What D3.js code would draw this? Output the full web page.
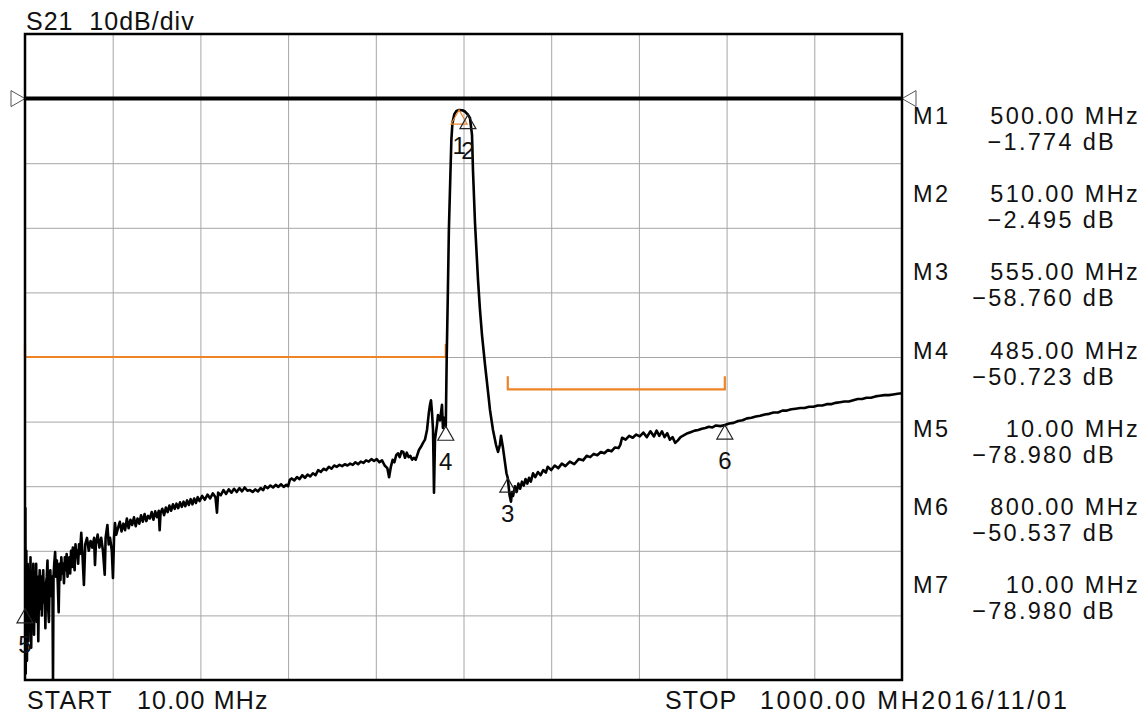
<!DOCTYPE html>
<html>
<head>
<meta charset="utf-8">
<script src="https://cdn.jsdelivr.net/npm/d3@7"></script>
<style>
body{margin:0;background:#fff;}
svg text{font-family:"Liberation Sans",Arial,sans-serif;fill:#111;white-space:pre;}
</style>
</head>
<body>
<svg id="chart" width="1147" height="717"></svg>
<script>
// S21 trace (MHz / dB)
var traceMHz = [
  10.0,10.4,10.8,11.5,12.2,13.0,13.8,14.6,15.4,16.2,17.0,17.8,18.6,19.4,20.2,21.0,21.8,22.6,23.4,24.2,
  25.0,25.8,26.6,27.4,28.2,29.0,29.8,30.6,31.4,32.2,33.0,33.8,34.6,35.4,36.2,37.0,37.8,38.6,39.4,40.2,
  41.0,41.6,42.2,43,44,45,46,47,48,49,50,51,52,53,54,55,56,57,58,59,
  60,61,62,63,64,65,66,67,68,69,70,71,72,73.5,75,76.5,78,80,82,84,
  86,88,89,90,92,94,96,98,100,101,103,104.5,106,108,109.3,110.5,111.6,113,115,117,
  119,121,123,125,127,129,131,133,135,137,139,141,143,145,147,149,151,153,155,157,
  159,161,162,163,165,167,169,171,173,175,177,179,181,183,185,187,189,191,193,195,
  197,199,201,203,205,207,210,213,216,219,222,225,226.7,228,231,234,237,240,243,246,
  249,252,255,258,261,264,267,270,273,276,279,281,284,287,290,293,296,299,302,305,
  307,309,311,314,317,320,323,326,329,332,335,338,341,344,347,350,353,356,359,362,
  365,368,371,374,377,380,383,386,389,392,395,398,401,404,407,410,413,416,419,421,
  423,425,427,429,431,433,435,437,439,441,443,445,447,449,451,452.5,454.7,457,459.3,461.5,
  463.8,466,467.2,468.3,469.4,470.6,471.7,472.8,475.1,476.2,478.5,480.7,481.8,483,485,
  486,487.4,488.5,490.2,491.3,492.5,494.7,497,500,503.7,506.7,510,512.3,514.6,515.7,518,
  521.4,523.6,525.9,529.3,532.7,534.9,538.3,541.7,544,546.2,547.3,549.6,551.8,553.5,555,557,
  558.6,559.8,561,563,565,567,569,571,573,575,577,579,581,583.5,586,589,592,595,598,600,
  604,608,612,616,620,625,630,635,640,644,648,652,656,660,664,668,672,676,680,682,
  684,688,692,696,700,704,708,712,716,720,723,726,729,732,735,738,741,744,747,750,
  754,758,762,766,770,774,778,782,786,790,795,800,805,810,815,820,825,830,835,840,
  845,850,855,860,865,870,875,880,885,890,895,900,905,910,915,920,925,930,935,940,
  945,950,955,960,965,970,975,980,985,990,995,1000
];
var traceDb = [
  -86,-63.4,-89,-70,-87,-72,-84,-73,-81,-71,-85,-74,-79,-72,-83,-75,-78,-72,-81,-74,
  -84,-76,-73,-79,-74,-80,-75,-73,-78,-76,-82,-75,-74,-71.5,-79,-81,-75,-73,-77,-74,
  -76,-90,-74,-72,-70.2,-74,-71.5,-75,-79.5,-72,-74.5,-71,-73.5,-72,-75,-71,-73,-70.5,-74,-72,
  -71,-73.5,-70,-72.5,-69.5,-71.5,-73,-69,-71,-70,-72,-69,-70.5,-67.2,-71,-75.3,-69,-68,-70,-68.5,
  -69.5,-68,-72.2,-69,-67.5,-69.5,-68,-70,-73.7,-68,-66,-69,-68,-70,-74.2,-68,-65.7,-67.5,-66.5,-65.5,
  -67,-65.8,-66.8,-65,-66.5,-65.2,-66,-64.8,-66.2,-65,-65.8,-64.5,-65.5,-64.3,-65.4,-64.6,-65,-64,-65.2,-63.9,
  -64.8,-63.8,-66.8,-64.2,-63.5,-64.5,-63.3,-64,-63,-63.8,-62.8,-63.5,-62.7,-63.4,-62.5,-63.2,-62.4,-63.1,-62.2,-62.9,
  -62,-62.8,-61.9,-62.6,-61.7,-62.3,-61.5,-62.1,-61.3,-61.9,-61.1,-61.7,-64.1,-61,-61.4,-60.6,-61.2,-60.5,-61,-60.4,
  -60.9,-60.3,-60.8,-60.2,-60.7,-60.6,-60.9,-60.5,-60.8,-60.3,-60.6,-60.0,-60.3,-59.9,-60.2,-59.8,-60.1,-59.7,-60.1,-59.8,
  -60.0,-59.0,-58.8,-59.1,-58.6,-58.9,-58.3,-58.7,-58.2,-58.5,-58.0,-58.3,-57.5,-57.8,-57.3,-57.5,-57.0,-57.3,-56.8,-57.0,
  -56.7,-56.9,-56.6,-56.8,-56.5,-56.7,-56.3,-56.6,-56.2,-56.4,-56.0,-56.2,-55.8,-56.1,-55.8,-56.3,-56.0,-56.8,-57.2,-58.6,
  -57.0,-55.9,-56.3,-55.2,-54.9,-55.5,-54.6,-54.7,-55.6,-54.8,-55.5,-55.3,-55.9,-55.6,-55.9,-55.3,-54.4,-53.9,-53.3,-52.8,
  -51.3,-48.5,-47.4,-46.7,-48.5,-51.3,-61.0,-52.8,-50.5,-49.0,-49.8,-47.4,-51.0,-49.4,-50.72,
  -40.5,-29.6,-20.3,-11.8,-6.4,-3.8,-2.4,-1.9,-1.774,-1.8,-2.0,-2.495,-3.0,-5.6,-11.1,-19.3,
  -28.1,-32.7,-36.6,-41.2,-45.4,-48.2,-51.3,-53.6,-54.7,-53.5,-52.2,-54.1,-56.3,-58.0,-58.76,-61.4,
  -62.4,-60.9,-61.5,-60.0,-60.9,-59.6,-60.4,-59.3,-59.9,-58.9,-59.6,-58.7,-59.3,-58.0,-58.6,-57.8,-58.3,-57.5,-57.9,-57.0,
  -57.5,-56.8,-57.2,-56.5,-56.9,-56.2,-56.6,-55.8,-56.0,-55.3,-55.5,-55.0,-55.2,-54.7,-54.9,-54.4,-54.6,-54.0,-54.1,-53.6,
  -52.5,-52.8,-52.2,-52.5,-52.0,-52.3,-51.7,-52.4,-51.5,-52.3,-51.4,-52.2,-51.5,-52.4,-51.8,-52.8,-52.4,-53.3,-52.9,-52.4,
  -52.1,-51.8,-51.6,-51.4,-51.3,-51.1,-51.0,-50.8,-50.9,-50.6,-50.7,-50.537,-50.3,-50.2,-49.9,-49.8,-49.5,-49.4,-49.2,-49.1,
  -48.9,-48.8,-48.6,-48.6,-48.3,-48.3,-48.1,-48.0,-47.9,-47.9,-47.7,-47.7,-47.5,-47.5,-47.3,-47.3,-47.1,-47.0,-46.9,-46.9,
  -46.7,-46.5,-46.5,-46.3,-46.3,-46.1,-46.0,-45.9,-45.9,-45.8,-45.7,-45.6
];

var markerNames = ["M1","M2","M3","M4","M5","M6","M7"];
var markerMHz = [500, 510, 555, 485, 10, 800, 10];
var markerDb = [-1.774, -2.495, -58.760, -50.723, -78.980, -50.537, -78.980];

var limitStartMHz = [10, 555];
var limitStopMHz = [485, 800];
var limitDb = [-40, -45];

var refDb = 0;
var startMHz = 10, stopMHz = 1000;
var topDb = 10, dbPerDiv = 10, divs = 10;

var svg = d3.select("#chart");
var plot = {left: 25, top: 34, width: 877, height: 646};

var x = d3.scaleLinear().domain([startMHz, stopMHz]).range([plot.left, plot.left + plot.width]);
var y = d3.scaleLinear().domain([topDb, topDb - dbPerDiv * divs]).range([plot.top, plot.top + plot.height]);

var xTicks = d3.range(divs + 1).map(function(i){ return startMHz + (stopMHz - startMHz) / divs * i; });
var yTicks = d3.range(divs + 1).map(function(i){ return topDb - dbPerDiv * i; });

// grid
svg.append("g")
  .attr("transform", "translate(0," + (plot.top + plot.height) + ")")
  .call(d3.axisBottom(x).tickValues(xTicks).tickSize(-plot.height).tickFormat(""))
  .call(function(g){ g.select(".domain").remove(); })
  .selectAll("line").attr("stroke", "#a6a6a6").attr("stroke-width", 1);
svg.append("g")
  .attr("transform", "translate(" + plot.left + ",0)")
  .call(d3.axisLeft(y).tickValues(yTicks).tickSize(-plot.width).tickFormat(""))
  .call(function(g){ g.select(".domain").remove(); })
  .selectAll("line").attr("stroke", "#a6a6a6").attr("stroke-width", 1);

svg.append("clipPath").attr("id", "clip")
  .append("rect").attr("x", plot.left).attr("y", plot.top)
  .attr("width", plot.width).attr("height", plot.height);

// limit lines
var limits = limitDb.map(function(d, i){ return {a: limitStartMHz[i], b: limitStopMHz[i], db: d}; });
var lim = svg.append("g").attr("stroke", "#ee8426").attr("stroke-width", 2.2).attr("fill", "none");
limits.forEach(function(l){
  lim.append("path").attr("d",
    "M" + x(l.a) + "," + (y(l.db) - 13) + "V" + y(l.db) + "H" + x(l.b) + "V" + (y(l.db) - 13));
});

// reference line
svg.append("line")
  .attr("x1", x(startMHz)).attr("x2", x(stopMHz))
  .attr("y1", y(refDb)).attr("y2", y(refDb))
  .attr("stroke", "#000").attr("stroke-width", 4);
svg.append("path")
  .attr("d", "M" + (x(startMHz) - 14) + "," + (y(refDb) - 8) + "L" + x(startMHz) + "," + y(refDb) + "L" + (x(startMHz) - 14) + "," + (y(refDb) + 8) + "Z")
  .attr("fill", "#fff").attr("stroke", "#555").attr("stroke-width", 1);
svg.append("path")
  .attr("d", "M" + (x(stopMHz) + 14) + "," + (y(refDb) - 8) + "L" + x(stopMHz) + "," + y(refDb) + "L" + (x(stopMHz) + 14) + "," + (y(refDb) + 8) + "Z")
  .attr("fill", "#fff").attr("stroke", "#555").attr("stroke-width", 1);

// trace
var pts = traceMHz.map(function(f, i){ return [f, traceDb[i]]; });
svg.append("path")
  .datum(pts)
  .attr("clip-path", "url(#clip)")
  .attr("fill", "none")
  .attr("stroke", "#000")
  .attr("stroke-width", 2.6)
  .attr("stroke-linejoin", "round")
  .attr("d", d3.line().x(function(d){ return x(d[0]); }).y(function(d){ return y(d[1]); }));

// frame
svg.append("rect")
  .attr("x", plot.left).attr("y", plot.top)
  .attr("width", plot.width).attr("height", plot.height)
  .attr("fill", "none").attr("stroke", "#000").attr("stroke-width", 2.5);

// markers on trace (a marker at the same spot as an earlier one is not redrawn)
var mk = svg.append("g");
markerNames.forEach(function(name, i){
  var dup = markerMHz.slice(0, i).some(function(f, j){ return f === markerMHz[i] && markerDb[j] === markerDb[i]; });
  if (dup) return;
  var px = x(markerMHz[i]), py = y(markerDb[i]);
  mk.append("path")
    .attr("d", "M" + px + "," + py + "l-8,14h16z")
    .attr("fill", "none")
    .attr("stroke", i === 0 ? "#ee8426" : "#222")
    .attr("stroke-width", 1.2);
  mk.append("text")
    .attr("x", px).attr("y", py + 44)
    .attr("text-anchor", "middle")
    .style("font-size", "24px")
    .text(name.slice(1));
});

// marker readout
var ro = svg.append("g").style("font-size", "23.5px").style("letter-spacing", "2.3px");
markerNames.forEach(function(name, i){
  var by = 124 + 78.2 * i;
  ro.append("text").attr("x", 913).attr("y", by).text(name);
  ro.append("text").attr("x", 1140).attr("y", by).attr("text-anchor", "end")
    .text(markerMHz[i].toFixed(2) + " MHz");
  ro.append("text").attr("x", 1116).attr("y", by + 26).attr("text-anchor", "end")
    .text("\u2212" + Math.abs(markerDb[i]).toFixed(3) + " dB");
});

// header / footer
svg.append("text").attr("x", 26).attr("y", 30)
  .style("font-size", "25px").style("letter-spacing", "1px")
  .text("S21  10dB/div");
svg.append("text").attr("x", 27).attr("y", 709)
  .style("font-size", "25px").style("letter-spacing", "1.2px")
  .text("START");
svg.append("text").attr("x", 137).attr("y", 709)
  .style("font-size", "25px").style("letter-spacing", "1.2px")
  .text(startMHz.toFixed(2) + " MHz");
svg.append("text").attr("x", 665).attr("y", 709)
  .style("font-size", "25px").style("letter-spacing", "1.2px")
  .text("STOP");
svg.append("text").attr("x", 760).attr("y", 709)
  .style("font-size", "25px")
  .attr("textLength", 307).attr("lengthAdjust", "spacing")
  .text(stopMHz.toFixed(2) + " MH2016/11/01");
</script>
</body>
</html>
